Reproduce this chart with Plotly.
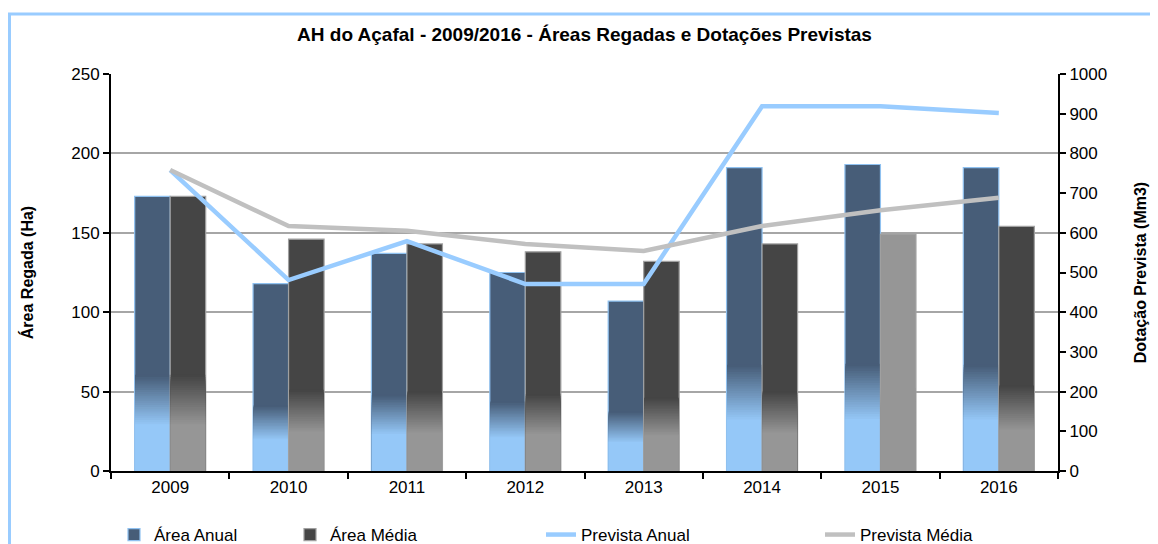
import plotly.graph_objects as go

years = ["2009", "2010", "2011", "2012", "2013", "2014", "2015", "2016"]
area_anual = [173, 118, 137, 125, 107, 191, 193, 191]
area_media = [173, 146, 143, 138, 132, 143, 149, 154]
prevista_anual = [758, 481, 579, 471, 471, 919, 919, 902]
prevista_media = [758, 617, 605, 572, 554, 617, 657, 688]

FONT = "Liberation Sans, Arial, sans-serif"

# the page body has an 8px margin, so figure coordinates = page coordinates - 8
W, H = 1150, 536
L, R, T, B = 103, 100, 66, 73
PW, PH = W - L - R, H - T - B


def hex2rgb(h):
    h = h.lstrip("#")
    return tuple(int(h[i:i + 2], 16) for i in (0, 2, 4))


def mix(c1, c2, t):
    a, b = hex2rgb(c1), hex2rgb(c2)
    return "rgb(%d,%d,%d)" % tuple(round(a[i] + (b[i] - a[i]) * t) for i in range(3))


fig = go.Figure()

# gradient steps (fraction of each bar's height)
N = 24
f_hi, f_lo = 0.35, 0.17
fracs = [f_hi - (f_hi - f_lo) * k / (N - 1) for k in range(N)]


def add_series(name, values, dark, light, edge, offset, legend, solid_idx=()):
    dark_cols = [light if i in solid_idx else dark for i in range(len(values))]
    fig.add_trace(go.Bar(
        x=years, y=values, name=name, offset=offset, width=0.3,
        marker=dict(color=dark_cols, line=dict(color=edge, width=1.2)),
        legend=legend,
    ))
    for f in fracs:
        t = (f - f_lo) / (f_hi - f_lo)
        col = mix(light, dark, t)
        cols = [light if i in solid_idx else col for i in range(len(values))]
        fig.add_trace(go.Bar(
            x=years, y=[v * f for v in values], offset=offset + 0.004, width=0.292,
            marker=dict(color=cols, line=dict(width=0)),
            showlegend=False, hoverinfo="skip",
        ))


add_series("Área Anual", area_anual, "#475d78", "#95c8f8", "#8fc1f0", -0.3, "legend")
add_series("Área Média", area_media, "#454545", "#969696", "#a0a0a0", 0.0, "legend2", solid_idx=(6,))

fig.add_trace(go.Scatter(
    x=years, y=prevista_anual, name="Prevista Anual", mode="lines",
    line=dict(color="#99ccff", width=4.5), yaxis="y2", legend="legend3",
))
fig.add_trace(go.Scatter(
    x=years, y=prevista_media, name="Prevista Média", mode="lines",
    line=dict(color="#c0c0c0", width=4.5), yaxis="y2", legend="legend4",
))


def px_x(page_x):
    return (page_x - 8 - L) / PW


def px_y(page_y):
    return (H - B - (page_y - 8)) / PH


leg_common = dict(orientation="h", yanchor="middle", y=px_y(535), xanchor="left",
                  font=dict(family=FONT, size=17, color="#000"), bgcolor="rgba(0,0,0,0)")

fig.update_layout(
    width=W, height=H,
    margin=dict(l=L, r=R, t=T, b=B, autoexpand=False),
    paper_bgcolor="white", plot_bgcolor="white",
    barmode="overlay",
    font=dict(family=FONT, size=17, color="#000"),
    title=dict(text="<b>AH do Açafal - 2009/2016 - Áreas Regadas e Dotações Previstas</b>",
               x=0.5, xref="paper", xanchor="center", y=1 - 26 / H, yanchor="middle",
               font=dict(family=FONT, size=19, color="#000")),
    xaxis=dict(type="category", tickson="boundaries", ticks="outside", ticklen=6,
               tickwidth=1.5, tickcolor="#000", showline=True, linecolor="#000", linewidth=2,
               showgrid=False, tickfont=dict(size=17), automargin=False),
    yaxis=dict(range=[0, 250], dtick=50, ticks="outside", ticklen=6, tickwidth=1.5,
               tickcolor="#000", showline=True, linecolor="#000", linewidth=2,
               showgrid=True, gridcolor="#a6a6a6", gridwidth=1.5, zeroline=False,
               automargin=False, tickfont=dict(size=17),
               title=dict(text="<b>Área Regada (Ha)</b>", font=dict(size=16), standoff=34)),
    yaxis2=dict(range=[0, 1000], dtick=100, overlaying="y", side="right", ticks="outside",
                ticklen=6, tickwidth=1.5, tickcolor="#000", showline=True, linecolor="#000",
                linewidth=2, showgrid=False, zeroline=False, automargin=False,
                tickfont=dict(size=17),
                title=dict(text="<b>Dotação Prevista (Mm3)</b>", font=dict(size=16), standoff=29)),
    legend=dict(x=px_x(114), **leg_common),
    legend2=dict(x=px_x(290), **leg_common),
    legend3=dict(x=px_x(541), **leg_common),
    legend4=dict(x=px_x(820), **leg_common),
    showlegend=True,
    shapes=[dict(type="rect", xref="paper", yref="paper",
                 x0=px_x(9.5), x1=px_x(1175),
                 y0=px_y(580), y1=px_y(14),
                 line=dict(color="#99ccff", width=3), fillcolor="rgba(0,0,0,0)", layer="below")],
)

fig.write_html("out.html")
